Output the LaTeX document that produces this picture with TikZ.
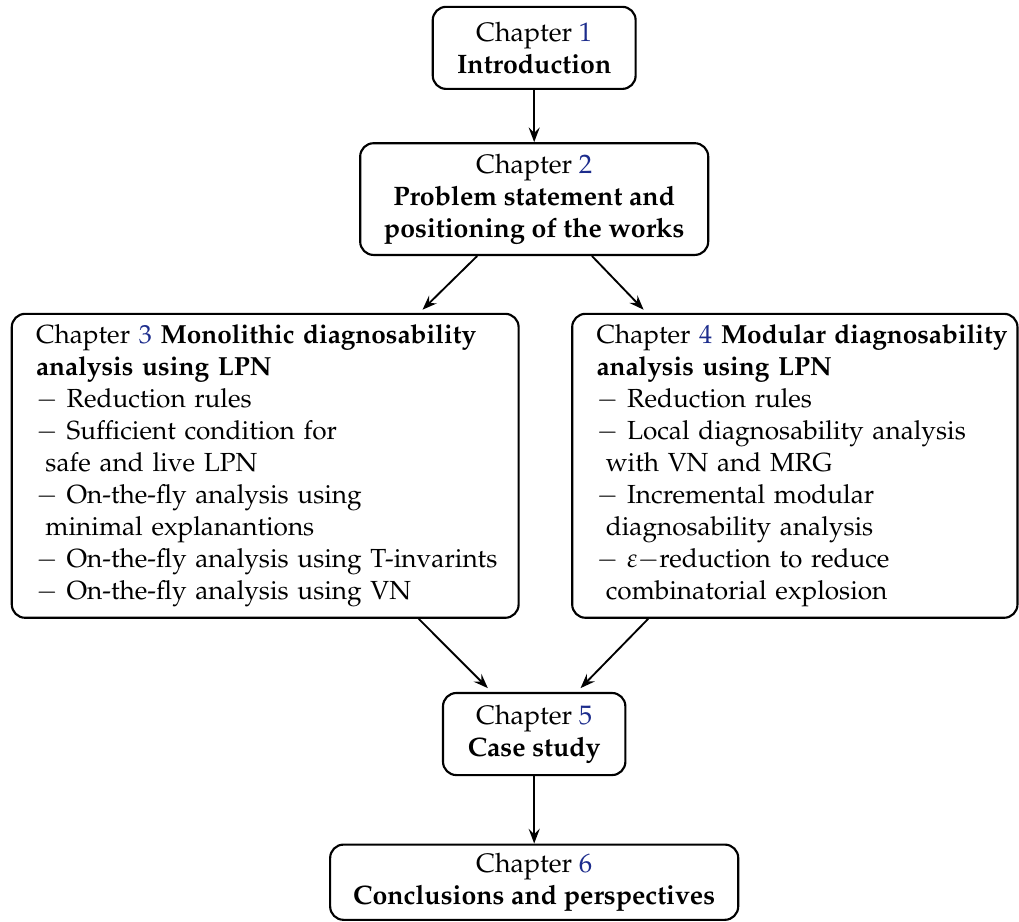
\documentclass[tikz,border=0pt]{standalone}
\usepackage[T1]{fontenc}
\usepackage{mathpazo}
\usepackage{xcolor}
\usepackage{tikz}
\usetikzlibrary{arrows.meta,positioning,calc}
\definecolor{cInk}{HTML}{000000}
\definecolor{cLink}{HTML}{1C2C8C}
\tikzset{
  chap/.style={draw=cInk,fill=white,rounded corners=5pt,line width=0.8pt,align=center,font=\normalsize,inner sep=3pt,text=cInk},
  chapbig/.style={chap,align=left,text width=#1,inner xsep=0.32cm,inner ysep=3pt,
    font={\fontsize{9.8pt}{12pt}\selectfont\hyphenpenalty=10000\exhyphenpenalty=10000}},
  arr/.style={-{Stealth[length=5.5pt,inset=2pt]},line width=0.7pt,color=cInk},
}
\newcommand{\chnum}[1]{\textcolor{cLink}{#1}}
\newcommand{\itm}{$-$\ }
\newcommand{\cont}{\hspace*{3.5pt}}

\begin{document}
\begin{tikzpicture}[x=1cm,y=1cm]
    \useasboundingbox (0,0) rectangle (13.41,-12.13);
    % chapters, top to bottom
    \node[chap,minimum width=2.67cm,minimum height=1.08cm] (intro) at (7.03,-0.63) {Chapter \chnum{1}\\ \textbf{Introduction}};
    \node[chap,minimum width=4.58cm,minimum height=1.47cm] (prob) at (7.03,-2.62) {Chapter \chnum{2}\\ \textbf{Problem statement and}\\ \textbf{positioning of the works}};
    \node[chapbig=6.03cm,minimum width=6.67cm,minimum height=4.0cm] (mono) at (3.49,-6.13) {\mbox{Chapter \chnum{3} \textbf{Monolithic diagnosability}}\\
      \textbf{analysis using LPN}\\
      \itm Reduction rules\\
      \itm Sufficient condition for\\ \cont safe and live LPN\\
      \itm On-the-fly analysis using\\ \cont minimal explanantions\\
      \mbox{\itm On-the-fly analysis using T-invarints}\\
      \itm On-the-fly analysis using VN};
    \node[chapbig=5.22cm,minimum width=5.86cm,minimum height=4.0cm] (modu) at (10.46,-6.13) {\mbox{Chapter \chnum{4} \textbf{Modular diagnosability}}\\
      \textbf{analysis using LPN}\\
      \itm Reduction rules\\
      \mbox{\itm Local diagnosability analysis}\\ \cont with VN and MRG\\
      \itm Incremental modular\\ \cont diagnosability analysis\\
      \itm $\varepsilon-$reduction to reduce\\ \cont combinatorial explosion};
    \node[chap,minimum width=2.40cm,minimum height=1.08cm] (case) at (7.03,-9.66) {Chapter \chnum{5}\\ \textbf{Case study}};
    \node[chap,minimum width=5.37cm,minimum height=0.99cm] (concl) at (7.03,-11.61) {Chapter \chnum{6}\\ \textbf{Conclusions and perspectives}};
    % links
    \draw[arr] (intro) -- (prob);
    \draw[arr] ($(prob.south)+(-0.75,0)$) -- ($(mono.north)+(2.07,0.04)$);
    \draw[arr] ($(prob.south)+(0.76,0)$) -- ($(modu.north)+(-1.99,0.04)$);
    \draw[arr] ($(mono.south)+(2.02,0)$) -- ($(case.north)+(-0.61,0.05)$);
    \draw[arr] ($(modu.south)+(-1.93,0)$) -- ($(case.north)+(0.61,0.05)$);
    \draw[arr] (case) -- (concl);
  \end{tikzpicture}
\end{document}
